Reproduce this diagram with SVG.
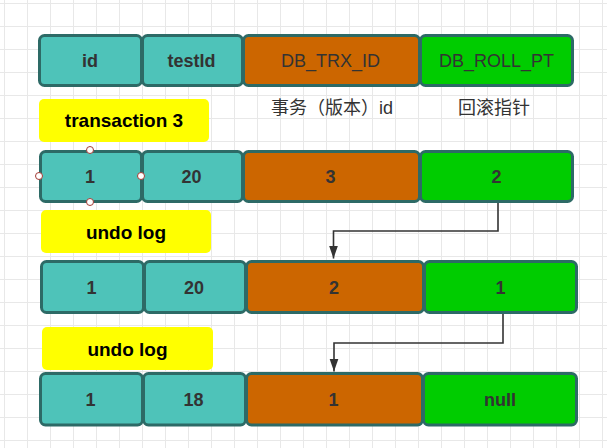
<svg xmlns="http://www.w3.org/2000/svg" width="607" height="448" viewBox="0 0 607 448">
<defs>
<pattern id="grid" x="4" y="3" width="23" height="23" patternUnits="userSpaceOnUse">
<path d="M0.5 0 V23 M0 0.5 H23" fill="none" stroke="#e8e8e8" stroke-width="1"/>
</pattern>
<marker id="arr" markerUnits="userSpaceOnUse" markerWidth="13" markerHeight="10" refX="13" refY="4.5" orient="auto">
<path d="M0,0 L13,4.5 L0,9 z" fill="#333333"/>
</marker>
<style>
.t{fill:#4ec3b9;stroke:#2d6a66;stroke-width:3}
.o{fill:#cc6600;stroke:#2d6a66;stroke-width:3}
.g{fill:#00cc00;stroke:#2d6a66;stroke-width:3}
.y{fill:#ffff00}
text{font-family:"Liberation Sans","Noto Sans CJK SC",Arial,sans-serif;font-size:18px;fill:#333333;text-anchor:middle}
.b{font-weight:bold}
.lab{font-weight:bold;font-size:19px;fill:#000000}
.cn{font-size:18px}
.h{fill:#ffffff;stroke:#a33b35;stroke-width:1}
.c{fill:none;stroke:#333333;stroke-width:1.6}
</style>
</defs>
<rect width="607" height="448" fill="#ffffff"/>
<rect width="607" height="448" fill="url(#grid)"/>

<g id="header">
<rect class="t" x="39.5" y="35.5" width="102" height="50" rx="5"/>
<rect class="t" x="142.5" y="35.5" width="100" height="50" rx="5"/>
<rect class="o" x="243.5" y="35.5" width="176" height="50" rx="5"/>
<rect class="g" x="420.5" y="35.5" width="152" height="50" rx="5"/>
<text class="b" x="90" y="66.5">id</text>
<text class="b" x="191.5" y="66.5">testId</text>
<text x="330.5" y="66.5">DB_TRX_ID</text>
<text x="496.5" y="66.5">DB_ROLL_PT</text>
</g>
<g id="header-notes">
<text class="cn" x="332" y="114">事务（版本）id</text>
<text class="cn" x="494" y="114">回滚指针</text>
</g>

<g id="label-transaction3">
<rect class="y" x="39" y="99" width="170" height="43" rx="5"/>
<text class="lab" x="124" y="127">transaction 3</text>
</g>

<g id="row-v3">
<rect class="t" x="40.5" y="151.5" width="101" height="50" rx="5"/>
<rect class="t" x="142.5" y="151.5" width="100" height="50" rx="5"/>
<rect class="o" x="243.5" y="151.5" width="176" height="50" rx="5"/>
<rect class="g" x="420.5" y="151.5" width="152" height="50" rx="5"/>
<text class="b" x="90" y="182.5">1</text>
<text class="b" x="191.5" y="182.5">20</text>
<text class="b" x="330.5" y="182.5">3</text>
<text class="b" x="496.5" y="182.5">2</text>
</g>
<g id="selection-handles">
<circle class="h" cx="90" cy="150" r="3.5"/>
<circle class="h" cx="39" cy="176" r="3.5"/>
<circle class="h" cx="141" cy="176" r="3.5"/>
<circle class="h" cx="90" cy="202" r="3.5"/>
</g>

<g id="label-undo1">
<rect class="y" x="41" y="210" width="170" height="43" rx="5"/>
<text class="lab" x="126" y="238.5">undo log</text>
</g>

<g id="row-v2">
<rect class="t" x="41.5" y="261.5" width="102" height="51" rx="5"/>
<rect class="t" x="144.5" y="261.5" width="101" height="51" rx="5"/>
<rect class="o" x="246.5" y="261.5" width="177" height="51" rx="5"/>
<rect class="g" x="424.5" y="261.5" width="152" height="51" rx="5"/>
<text class="b" x="91.5" y="293.5">1</text>
<text class="b" x="194" y="293.5">20</text>
<text class="b" x="334" y="293.5">2</text>
<text class="b" x="500.5" y="293.5">1</text>
</g>

<g id="label-undo2">
<rect class="y" x="42" y="327" width="171" height="43" rx="5"/>
<text class="lab" x="127.5" y="355.5">undo log</text>
</g>

<g id="row-v1">
<rect class="t" x="40.5" y="373.5" width="102" height="51.5" rx="5"/>
<rect class="t" x="143.5" y="373.5" width="102" height="51.5" rx="5"/>
<rect class="o" x="246.5" y="373.5" width="176" height="51.5" rx="5"/>
<rect class="g" x="423.5" y="373.5" width="153" height="51.5" rx="5"/>
<text class="b" x="90.5" y="405.5">1</text>
<text class="b" x="193.5" y="405.5">18</text>
<text class="b" x="333.5" y="405.5">1</text>
<text class="b" x="500" y="405.5">null</text>
</g>

<g id="connectors">
<path class="c" d="M498 203 V231 H333.5 V258.5" marker-end="url(#arr)"/>
<path class="c" d="M503 314 V343 H334 V371.5" marker-end="url(#arr)"/>
</g>
</svg>
